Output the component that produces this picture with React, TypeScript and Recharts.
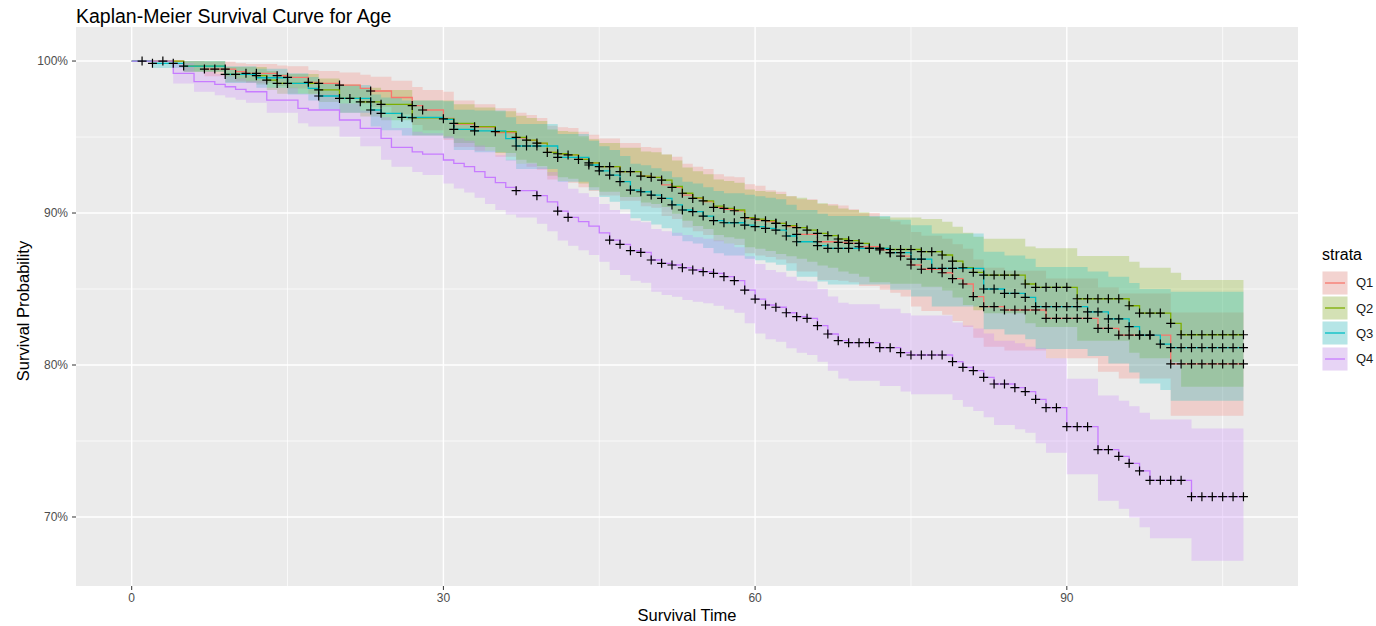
import React from "react"
import { ComposedChart, Area, Line, XAxis, YAxis, CartesianGrid } from "recharts"

// [time, survival %, lower CI %, upper CI %] at each step of the curve
type KmRow = [number, number, number, number]

const strata = ["Q1", "Q2", "Q3", "Q4"]
const strataColors = ["#F8766D", "#7CAE00", "#00BFC4", "#C77CFF"]
const xTicks = [0, 30, 60, 90]
const xMinorTicks = [15, 45, 75, 105]
const yTicks = [70, 80, 90, 100]
const yMinorTicks = [75, 85, 95]
const lastTime = 107

const q1Km: KmRow[] = [
  [0, 100, 100, 100], [5, 99.67, 99.3, 100], [7, 99.47, 99.0, 99.95], [10, 99.3, 98.7, 99.85],
  [11, 99.19, 98.55, 99.8], [14, 99.04, 98.35, 99.7], [15, 98.93, 98.2, 99.65], [17, 98.6, 97.8, 99.4],
  [18, 98.53, 97.7, 99.35], [20, 98.42, 97.5, 99.25], [22, 98.2, 97.2, 99.1], [23, 98.03, 97.0, 98.97],
  [25, 97.6, 96.5, 98.7], [27, 97.07, 95.8, 98.3], [28, 96.78, 95.45, 98.1], [30, 96.23, 94.8, 97.98],
  [31, 95.85, 94.35, 97.4], [33, 95.65, 94.1, 97.15], [35, 95.3, 93.7, 96.9], [37, 94.95, 93.25, 96.6],
  [38, 94.78, 93.05, 96.45], [39, 94.58, 92.85, 96.25], [40, 93.99, 92.2, 95.75], [41, 93.9, 92.1, 95.65],
  [42, 93.82, 92.0, 95.6], [43, 93.53, 91.7, 95.35], [44, 93.3, 91.45, 95.15], [45, 93.05, 91.15, 94.9],
  [47, 92.72, 90.8, 94.6], [49, 92.43, 90.45, 94.35], [50, 92.35, 90.35, 94.3], [51, 91.85, 89.8, 93.85],
  [52, 91.69, 89.6, 93.7], [53, 91.18, 89.05, 93.25], [54, 90.96, 88.8, 93.05], [55, 90.75, 88.55, 92.9],
  [56, 90.37, 88.15, 92.55], [57, 90.24, 88.0, 92.4], [58, 90.15, 87.9, 92.35], [59, 89.65, 87.35, 91.9],
  [60, 89.54, 87.2, 91.8], [61, 89.43, 87.1, 91.5], [62, 89.32, 86.95, 91.4], [63, 89.1, 86.7, 91.1],
  [64, 88.6, 86.15, 90.9], [66, 88.11, 85.6, 90.6], [68, 88.07, 85.55, 90.5], [69, 88.0, 85.45, 90.25],
  [70, 87.78, 85.2, 90.0], [72, 87.57, 84.95, 89.6], [73, 87.39, 84.75, 89.45], [74, 87.17, 84.5, 89.25],
  [75, 86.58, 83.85, 88.75], [76, 86.3, 83.55, 88.5], [78, 86.07, 83.3, 88.3], [79, 85.68, 82.9, 87.95],
  [80, 85.33, 82.5, 87.65], [81, 84.5, 81.8, 86.95], [82, 83.84, 81.2, 86.4], [84, 83.62, 80.95, 86.2],
  [88, 83.07, 80.44, 85.7], [93, 82.41, 79.56, 85.1], [95, 81.97, 79.12, 84.7], [100, 80.07, 76.67, 83.45],
]

const q2Km: KmRow[] = [
  [0, 100, 100, 100], [5, 99.67, 99.3, 100], [9, 99.12, 98.6, 99.6], [12, 99.04, 98.45, 99.6],
  [13, 98.75, 98.1, 99.35], [14, 98.53, 97.85, 99.15], [18, 98.1, 97.3, 98.85], [20, 97.54, 96.6, 98.45],
  [22, 97.32, 96.35, 98.25], [24, 97.15, 96.1, 98.1], [27, 96.27, 95.1, 97.4], [30, 96.2, 94.95, 97.4],
  [31, 95.9, 94.6, 97.15], [33, 95.68, 94.35, 96.95], [35, 95.35, 93.95, 96.7], [37, 94.98, 93.5, 96.4],
  [38, 94.8, 93.3, 96.25], [39, 94.6, 93.1, 96.05], [40, 93.99, 92.45, 95.5], [41, 93.9, 92.35, 95.4],
  [42, 93.82, 92.25, 95.35], [43, 93.53, 91.95, 95.05], [44, 93.3, 91.7, 94.85], [45, 93.05, 91.4, 94.6],
  [47, 92.72, 91.05, 94.3], [49, 92.43, 90.7, 94.05], [50, 92.35, 90.6, 94.0], [51, 92.17, 90.4, 93.85],
  [52, 91.75, 89.95, 93.45], [53, 91.3, 89.5, 93.0], [54, 91.0, 89.15, 92.75], [55, 90.8, 88.95, 92.55],
  [56, 90.45, 88.55, 92.2], [57, 90.3, 88.4, 92.1], [58, 90.2, 88.3, 92.0], [59, 89.7, 87.75, 91.55],
  [60, 89.6, 87.65, 91.45], [61, 89.5, 87.5, 91.4], [62, 89.32, 87.3, 91.25], [63, 89.17, 87.15, 91.1],
  [64, 89.04, 87.0, 91.0], [65, 88.88, 86.8, 90.85], [66, 88.66, 86.55, 90.65], [67, 88.51, 86.4, 90.5],
  [68, 88.29, 86.15, 90.3], [69, 88.18, 86.0, 90.2], [70, 88.0, 85.8, 90.05], [71, 87.68, 85.45, 89.76],
  [73, 87.6, 85.35, 89.7], [76, 87.46, 85.15, 89.6], [78, 87.24, 84.9, 89.43], [79, 86.84, 84.45, 89.1],
  [80, 86.4, 83.95, 88.7], [81, 86.1, 83.6, 88.44], [82, 85.92, 83.4, 88.3], [86, 85.33, 82.75, 87.8],
  [87, 85.11, 82.5, 87.68], [91, 84.36, 81.6, 87.17], [96, 83.9, 80.8, 86.8], [97, 83.42, 80.44, 86.4],
  [100, 82.74, 80.2, 86.07], [101, 81.99, 78.57, 85.59],
]

const q3Km: KmRow[] = [
  [0, 100, 100, 100], [2, 99.85, 99.55, 100], [5, 99.67, 99.3, 100], [9, 99.12, 98.55, 99.65],
  [12, 98.9, 98.25, 99.5], [15, 98.53, 97.8, 99.2], [17, 98.2, 97.4, 98.95], [18, 97.7, 96.8, 98.55],
  [20, 97.54, 96.6, 98.42], [23, 96.78, 95.7, 97.8], [24, 96.56, 95.45, 97.6], [26, 96.3, 95.1, 97.4],
  [30, 96.16, 94.9, 97.35], [31, 95.5, 94.15, 96.8], [33, 95.4, 94.0, 96.75], [36, 94.9, 93.45, 96.3],
  [37, 94.41, 92.9, 95.85], [41, 93.66, 92.05, 95.2], [44, 93.16, 91.5, 94.75], [45, 92.78, 91.05, 94.4],
  [46, 92.5, 90.75, 94.15], [47, 92.06, 90.25, 93.75], [48, 91.51, 89.65, 93.25], [49, 91.4, 89.5, 93.15],
  [50, 91.18, 89.25, 92.95], [51, 90.96, 89.0, 92.75], [52, 90.53, 88.5, 92.35], [53, 90.2, 88.15, 92.05],
  [54, 90.09, 88.0, 91.95], [55, 89.8, 87.7, 91.7], [56, 89.5, 87.35, 91.45], [57, 89.36, 87.2, 91.3],
  [59, 89.21, 87.0, 91.2], [60, 89.1, 86.9, 91.1], [61, 88.99, 86.75, 91.0], [62, 88.88, 86.6, 90.9],
  [63, 88.49, 86.2, 90.55], [64, 88.11, 85.8, 90.2], [66, 87.85, 85.5, 89.95], [67, 87.68, 85.3, 89.8],
  [73, 87.39, 84.95, 89.55], [75, 86.97, 84.5, 89.2], [77, 86.36, 83.85, 88.65], [82, 85.0, 82.35, 87.45],
  [84, 84.71, 82.0, 87.2], [86, 84.45, 81.7, 87.0], [87, 83.84, 81.05, 86.45], [92, 83.49, 80.6, 86.15],
  [94, 83.03, 80.1, 85.8], [96, 82.52, 79.5, 85.4], [97, 81.97, 78.79, 85.0], [99, 81.38, 78.36, 85.0],
  [100, 81.14, 77.65, 84.82],
]

const q4Km: KmRow[] = [
  [0, 100, 100, 100], [4, 99.19, 98.53, 99.85], [6, 98.64, 97.98, 99.3], [8, 98.47, 97.75, 99.15],
  [9, 98.31, 97.6, 99.0], [10, 98.14, 97.45, 98.85], [11, 97.98, 97.25, 98.7], [13, 97.43, 96.6, 98.25],
  [16, 96.89, 95.9, 97.85], [17, 96.78, 95.7, 97.8], [20, 96.12, 95.02, 97.2], [22, 95.57, 94.4, 96.75],
  [24, 94.91, 93.5, 96.3], [25, 94.32, 93.05, 95.6], [27, 94.03, 92.7, 95.35], [28, 93.88, 92.5, 95.25],
  [30, 93.49, 91.95, 95.05], [31, 93.27, 91.62, 94.9], [32, 93.05, 91.35, 94.75], [33, 92.72, 91.0, 94.45],
  [34, 92.35, 90.6, 94.1], [35, 92.0, 90.2, 93.8], [36, 91.69, 89.9, 93.5], [37, 91.47, 89.7, 93.25],
  [39, 91.14, 89.3, 93.0], [40, 90.74, 88.8, 92.7], [41, 90.13, 88.2, 92.1], [42, 89.72, 87.85, 91.6],
  [43, 89.43, 87.55, 91.3], [44, 89.14, 87.24, 91.05], [45, 88.7, 86.8, 90.6], [46, 88.22, 86.25, 90.2],
  [47, 87.94, 85.92, 89.95], [48, 87.52, 85.55, 89.5], [49, 87.41, 85.42, 89.4], [50, 86.91, 84.82, 88.95],
  [51, 86.69, 84.6, 88.8], [52, 86.58, 84.49, 88.7], [53, 86.4, 84.28, 88.55], [54, 86.25, 84.16, 88.4],
  [55, 86.14, 84.06, 88.3], [56, 86.03, 83.9, 88.2], [57, 85.81, 83.66, 88.0], [58, 85.55, 83.44, 87.75],
  [59, 84.93, 82.74, 87.15], [60, 84.34, 82.08, 86.65], [61, 83.95, 81.69, 86.25], [62, 83.8, 81.53, 86.1],
  [63, 83.44, 81.1, 85.8], [64, 83.18, 80.81, 85.55], [65, 83.07, 80.66, 85.5], [66, 82.59, 80.22, 85.0],
  [67, 82.04, 79.63, 84.5], [68, 81.6, 79.12, 84.1], [69, 81.47, 78.97, 84.0], [72, 81.14, 78.62, 83.7],
  [74, 80.81, 78.25, 83.4], [75, 80.66, 78.07, 83.25], [79, 80.22, 77.7, 82.8], [80, 79.85, 77.26, 82.6],
  [81, 79.63, 76.97, 82.41], [82, 79.19, 76.56, 82.08], [83, 78.75, 76.05, 81.6], [85, 78.51, 75.77, 81.43],
  [86, 78.25, 75.55, 81.2], [87, 77.74, 74.85, 81.1], [88, 77.19, 74.23, 80.44], [90, 75.94, 72.81, 79.1],
  [93, 74.43, 71.07, 78.0], [95, 73.99, 70.55, 77.65], [96, 73.53, 69.97, 77.28], [97, 73.03, 69.32, 76.86],
  [98, 72.41, 68.6, 76.42], [102, 71.34, 67.12, 75.83],
]

// censoring times (drawn as "+")
const q1Censor = [1, 7, 8, 9, 11, 12, 14, 15, 17, 18, 20, 23, 27, 28, 52, 54, 56, 58, 62, 64, 66, 68, 69, 70,
  72, 73, 74, 75, 76, 78, 79, 80, 81, 82, 83, 84, 85, 86, 87, 88, 89, 90, 91, 92, 93, 94, 95, 96, 97, 98,
  100, 101, 102, 103, 104, 105, 106, 107]
const q2Censor = [3, 5, 9, 10, 12, 13, 14, 15, 18, 20, 21, 22, 23, 24, 27, 30, 31, 33, 35, 37, 38, 39, 40, 41,
  42, 43, 44, 45, 46, 47, 48, 49, 50, 51, 53, 55, 57, 59, 60, 61, 62, 63, 64, 65, 66, 67, 68, 69, 70, 71, 72,
  73, 74, 75, 76, 77, 78, 79, 80, 81, 82, 83, 84, 85, 86, 87, 88, 89, 90, 91, 92, 93, 94, 95, 96, 97, 98, 99,
  100, 101, 102, 103, 104, 105, 106, 107]
const q3Censor = [2, 4, 18, 23, 24, 26, 31, 33, 37, 38, 39, 41, 44, 45, 46, 47, 48, 49, 50, 51, 52, 53, 54, 55,
  56, 57, 58, 59, 60, 61, 62, 63, 64, 66, 67, 68, 69, 71, 72, 73, 74, 75, 76, 77, 78, 79, 82, 83, 84, 85, 86,
  87, 88, 89, 90, 91, 92, 93, 94, 95, 96, 97, 98, 99, 100, 101, 102, 103, 104, 105, 106, 107]
const q4Censor = [37, 39, 41, 42, 46, 47, 48, 49, 50, 51, 52, 53, 54, 55, 56, 57, 58, 59, 60, 61, 62, 63, 64,
  65, 66, 67, 68, 69, 70, 71, 72, 73, 74, 75, 76, 77, 78, 79, 80, 81, 82, 83, 84, 85, 86, 87, 88, 89, 90, 91,
  92, 93, 94, 95, 96, 97, 98, 99, 100, 101, 102, 103, 104, 105, 106, 107]

const kmTables = [q1Km, q2Km, q3Km, q4Km]
const censorTimes = [q1Censor, q2Censor, q3Censor, q4Censor]

const FONT = "'Liberation Sans', Arial, Helvetica, sans-serif"

// rows for the step line and ribbon, carried on to the last follow-up time
function stepRows(km: KmRow[]) {
  const rows = km.map(([t, s, lo, hi]) => ({ t, s, band: [lo, hi] }))
  const last = rows[rows.length - 1]
  rows.push({ ...last, t: lastTime })
  return rows
}

// survival value at each censoring time
function censorRows(km: KmRow[], times: number[]) {
  return times.map((t) => {
    let row = km[0]
    for (const r of km) if (r[0] <= t) row = r
    return { t, s: row[1] }
  })
}

const CensorMark = (props: any) => {
  const { cx, cy, index } = props
  if (cx == null || cy == null) return <g key={`c-${index}`} />
  const a = 4.5
  return (
    <path
      key={`c-${index}`}
      d={`M${cx - a},${cy}H${cx + a}M${cx},${cy - a}V${cy + a}`}
      stroke="#000"
      strokeWidth={1.2}
      fill="none"
    />
  )
}

function Legend() {
  return (
    <div style={{ position: "absolute", left: 1322, top: 246, fontFamily: FONT }}>
      <div style={{ fontSize: 16, color: "#000", marginBottom: 6 }}>strata</div>
      {strata.map((name, i) => (
        <div key={name} style={{ display: "flex", alignItems: "center", height: 25.4 }}>
          <svg width={26} height={24}>
            <rect x={0.5} y={0.5} width={25} height={23} fill="#F2F2F2" />
            <rect x={0.5} y={0.5} width={25} height={23} fill={strataColors[i]} fillOpacity={0.25} />
            <line x1={3} x2={23} y1={12} y2={12} stroke={strataColors[i]} strokeWidth={1.3} />
          </svg>
          <span style={{ fontSize: 13, color: "#1A1A1A", marginLeft: 8 }}>{name}</span>
        </div>
      ))}
    </div>
  )
}

export default function App() {
  return (
    <div style={{ position: "absolute", left: 0, top: 0, width: 1376, height: 626, background: "#fff" }}>
      <div style={{ position: "absolute", left: 76, top: 5, fontFamily: FONT, fontSize: 19.5, color: "#000" }}>
        Kaplan-Meier Survival Curve for Age
      </div>
      <ComposedChart
        width={1376}
        height={626}
        margin={{ top: 27, right: 78, bottom: 0, left: 0 }}
      >
        <CartesianGrid
          fill="#EBEBEB"
          stroke="#FFFFFF"
          strokeWidth={0.7}
          horizontalValues={yMinorTicks}
          verticalValues={xMinorTicks}
        />
        <CartesianGrid
          stroke="#FFFFFF"
          strokeWidth={1.4}
          horizontalValues={yTicks}
          verticalValues={xTicks}
        />
        <XAxis
          type="number"
          dataKey="t"
          domain={[-5.36, 112.25]}
          allowDataOverflow
          ticks={xTicks}
          height={40}
          axisLine={false}
          tickSize={4}
          tickMargin={3}
          tickLine={{ stroke: "#333333" }}
          tick={{ fill: "#4D4D4D", fontSize: 12, fontFamily: FONT }}
        />
        <YAxis
          type="number"
          domain={[65.46, 102.24]}
          allowDataOverflow
          ticks={yTicks}
          width={76}
          axisLine={false}
          tickSize={4}
          tickMargin={4}
          tickLine={{ stroke: "#333333" }}
          tickFormatter={(v: number) => `${v}%`}
          tick={{ fill: "#4D4D4D", fontSize: 12, fontFamily: FONT }}
        />
        {kmTables.map((km, i) => (
          <Area
            key={`band-${strata[i]}`}
            data={stepRows(km)}
            dataKey="band"
            type="stepAfter"
            stroke="none"
            fill={strataColors[i]}
            fillOpacity={0.25}
            isAnimationActive={false}
            activeDot={false}
          />
        ))}
        {kmTables.map((km, i) => (
          <Line
            key={`line-${strata[i]}`}
            data={stepRows(km)}
            dataKey="s"
            type="stepAfter"
            stroke={strataColors[i]}
            strokeWidth={1.3}
            dot={false}
            activeDot={false}
            isAnimationActive={false}
          />
        ))}
        {kmTables.map((km, i) => (
          <Line
            key={`censor-${strata[i]}`}
            data={censorRows(km, censorTimes[i])}
            dataKey="s"
            stroke="none"
            dot={CensorMark}
            activeDot={false}
            isAnimationActive={false}
          />
        ))}
      </ComposedChart>
      <div
        style={{
          position: "absolute",
          left: 76,
          width: 1222,
          top: 606,
          textAlign: "center",
          fontFamily: FONT,
          fontSize: 16.5,
          color: "#000",
        }}
      >
        Survival Time
      </div>
      <div
        style={{
          position: "absolute",
          left: 23,
          top: 311,
          transform: "translate(-50%, -50%) rotate(-90deg)",
          whiteSpace: "nowrap",
          fontFamily: FONT,
          fontSize: 16.5,
          color: "#000",
        }}
      >
        Survival Probability
      </div>
      <Legend />
    </div>
  )
}
